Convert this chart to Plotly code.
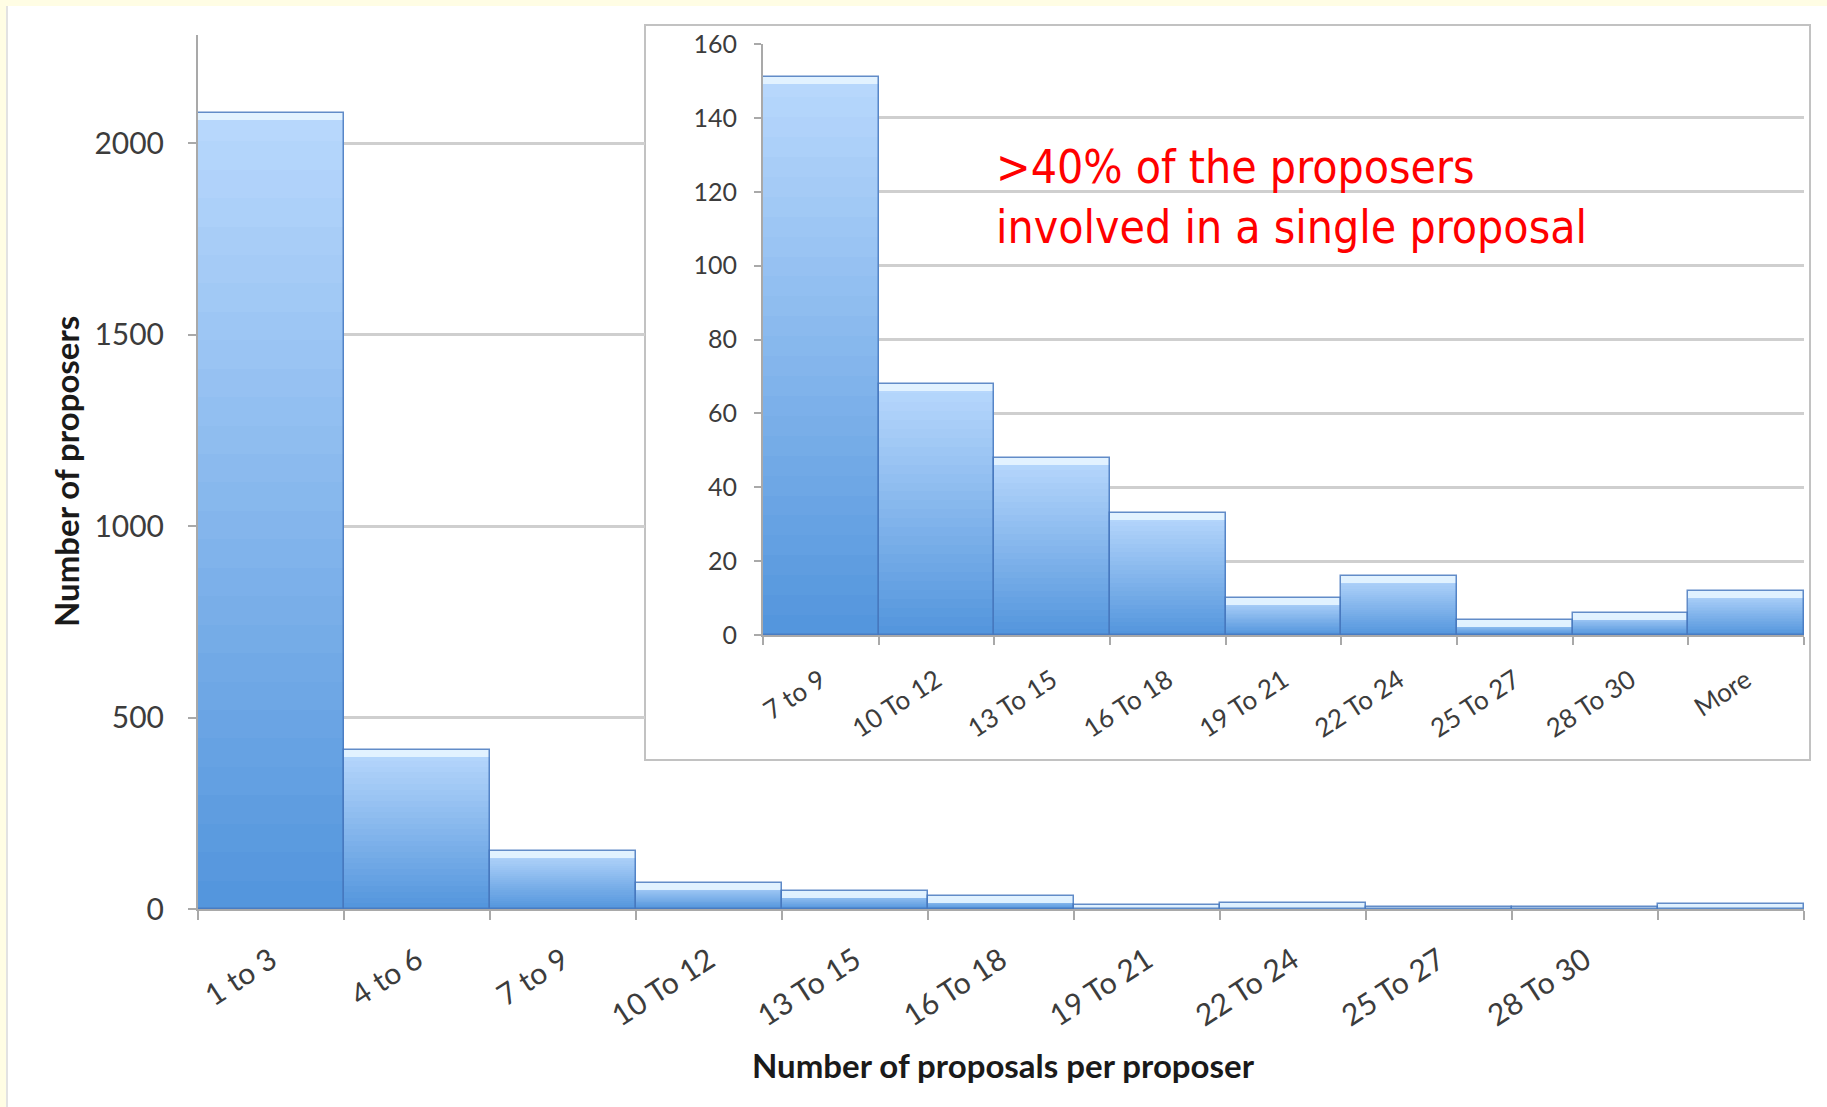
import plotly.graph_objects as go

# Number of proposers, binned by how many proposals each one is involved in
bins_main = ["1 to 3", "4 to 6", "7 to 9", "10 To 12", "13 To 15", "16 To 18",
             "19 To 21", "22 To 24", "25 To 27", "28 To 30", "More"]
labels_main = ["1 to 3", "4 to 6", "7 to 9", "10 To 12", "13 To 15", "16 To 18",
               "19 To 21", "22 To 24", "25 To 27", "28 To 30", ""]
counts_main = [2079, 416, 151, 68, 48, 33, 10, 16, 4, 6, 12]

# Close-up of the tail (7 proposals and more)
bins_zoom = ["7 to 9", "10 To 12", "13 To 15", "16 To 18", "19 To 21",
             "22 To 24", "25 To 27", "28 To 30", "More"]
counts_zoom = [151, 68, 48, 33, 10, 16, 4, 6, 12]

main_ticks = [0, 500, 1000, 1500, 2000]
zoom_ticks = [0, 20, 40, 60, 80, 100, 120, 140, 160]

W, H = 1827, 1107
TOP_RGB = (183, 215, 252)
BOTTOM_RGB = (84, 150, 221)


def px_x(p):
    return p / W


def px_y(p):
    return (H - p) / H


def gradient_bars(cats, vals, xa, ya, bevel):
    """Bars shaded light at the top to darker at the base, with a highlight rim."""
    traces = []
    steps = 28
    for k in range(steps):
        frac = 1 - k / steps
        t = k / (steps - 1)
        c = tuple(round(TOP_RGB[i] + (BOTTOM_RGB[i] - TOP_RGB[i]) * t) for i in range(3))
        traces.append(go.Bar(
            x=cats, y=[v * frac for v in vals], xaxis=xa, yaxis=ya,
            marker=dict(color="rgb(%d,%d,%d)" % c, line=dict(width=0)),
            hoverinfo="skip", showlegend=False))
    rim = [min(bevel, v) for v in vals]
    traces.append(go.Bar(
        x=cats, y=rim, base=[v - r for v, r in zip(vals, rim)], xaxis=xa, yaxis=ya,
        marker=dict(color="rgba(228,243,255,0.95)", line=dict(width=0)),
        hoverinfo="skip", showlegend=False))
    traces.append(go.Bar(
        x=cats, y=vals, xaxis=xa, yaxis=ya,
        marker=dict(color="rgba(0,0,0,0)", line=dict(color="rgba(70,120,190,0.85)", width=1.5)),
        hoverinfo="skip", showlegend=False))
    return traces


fig = go.Figure()

# helper subplot that only carries the main chart's horizontal gridlines
fig.add_trace(go.Scatter(x=[], y=[], xaxis="x", yaxis="y", hoverinfo="skip", showlegend=False))

for tr in gradient_bars(bins_main, counts_main, "x2", "y2", 18):
    fig.add_trace(tr)
for tr in gradient_bars(bins_zoom, counts_zoom, "x3", "y3", 1.9):
    fig.add_trace(tr)

AXIS_GREY = "#a9a9a9"
GRID_GREY = "#cfcfcf"
TICK_FONT = "Lato, 'Open Sans', sans-serif"

main_xdom = [px_x(198), px_x(1804)]
main_ydom = [px_y(909), px_y(35)]
main_range = [0, 2282]

fig.update_layout(
    width=W, height=H, autosize=False,
    margin=dict(l=0, r=0, t=0, b=0, pad=0, autoexpand=False),
    paper_bgcolor="white",
    plot_bgcolor="rgba(0,0,0,0)",
    barmode="overlay", bargap=0,
    showlegend=False,
    xaxis=dict(domain=[px_x(198), px_x(645)], anchor="y", visible=False, range=[0, 1],
               automargin=False),
    yaxis=dict(domain=main_ydom, anchor="x", range=main_range,
               tickmode="array", tickvals=main_ticks[1:],
               showgrid=True, gridcolor=GRID_GREY, gridwidth=3, automargin=False,
               showticklabels=False, ticks="", showline=False, zeroline=False),
    xaxis2=dict(domain=main_xdom, anchor="y2", type="category",
                categoryorder="array", categoryarray=bins_main,
                range=[-0.5, len(bins_main) - 0.5],
                tickmode="array", tickvals=bins_main, ticktext=labels_main,
                tickson="boundaries", tickangle=-33, automargin=False,
                ticks="outside", ticklen=9, tickwidth=2, tickcolor=AXIS_GREY,
                showline=True, linecolor=AXIS_GREY, linewidth=2,
                showgrid=False, zeroline=False, ticklabelstandoff=20,
                tickfont=dict(family=TICK_FONT, size=30, color="#3c3c3c")),
    yaxis2=dict(domain=main_ydom, anchor="x2", range=main_range,
                tickmode="array", tickvals=main_ticks, automargin=False,
                ticks="outside", ticklen=8, tickwidth=2, tickcolor=AXIS_GREY,
                showline=True, linecolor=AXIS_GREY, linewidth=2,
                showgrid=False, zeroline=False, ticklabelstandoff=18,
                tickfont=dict(family=TICK_FONT, size=30, color="#3c3c3c")),
    xaxis3=dict(domain=[px_x(763), px_x(1804)], anchor="y3", type="category",
                categoryorder="array", categoryarray=bins_zoom,
                range=[-0.5, len(bins_zoom) - 0.5],
                tickson="boundaries", tickangle=-33, automargin=False,
                ticks="outside", ticklen=8, tickwidth=2, tickcolor=AXIS_GREY,
                showline=True, linecolor=AXIS_GREY, linewidth=2,
                showgrid=False, zeroline=False, ticklabelstandoff=18,
                tickfont=dict(family=TICK_FONT, size=26, color="#3c3c3c")),
    yaxis3=dict(domain=[px_y(635), px_y(44)], anchor="x3", range=[0, 160],
                tickmode="array", tickvals=zoom_ticks, automargin=False,
                ticks="outside", ticklen=7, tickwidth=2, tickcolor=AXIS_GREY,
                showline=True, linecolor=AXIS_GREY, linewidth=2,
                showgrid=True, gridcolor=GRID_GREY, gridwidth=3,
                zeroline=False, ticklabelstandoff=12,
                tickfont=dict(family=TICK_FONT, size=25, color="#3c3c3c")),
)

fig.update_layout(shapes=[
    # pale slide background peeking at the top and left edges
    dict(type="rect", xref="paper", yref="paper", x0=0, x1=1, y0=px_y(6), y1=1,
         fillcolor="#fffde4", line=dict(width=0), layer="below"),
    dict(type="rect", xref="paper", yref="paper", x0=0, x1=px_x(6), y0=0, y1=1,
         fillcolor="#fffde4", line=dict(width=0), layer="below"),
    dict(type="line", xref="paper", yref="paper", x0=px_x(7), x1=px_x(7), y0=0, y1=px_y(6),
         line=dict(color="#e2e2e2", width=2), layer="below"),
    # frame around the close-up panel
    dict(type="rect", xref="paper", yref="paper",
         x0=px_x(645), x1=px_x(1810), y0=px_y(760), y1=px_y(25),
         fillcolor="white", line=dict(color="#c2c2c2", width=2), layer="below"),
])

fig.update_layout(annotations=[
    dict(text="Number of proposers", textangle=-90, showarrow=False,
         xref="paper", yref="paper", x=px_x(66), y=px_y(472),
         xanchor="center", yanchor="middle",
         font=dict(family=TICK_FONT, size=33, color="#1a1a1a", weight="bold")),
    dict(text="Number of proposals per proposer", showarrow=False,
         xref="paper", yref="paper", x=px_x(1003), y=px_y(1065),
         xanchor="center", yanchor="middle",
         font=dict(family=TICK_FONT, size=33, color="#1a1a1a", weight="bold")),
    dict(text=">40% of the proposers<br>involved in a single proposal", showarrow=False,
         xref="paper", yref="paper", x=px_x(994), y=px_y(197),
         xanchor="left", yanchor="middle", align="left",
         font=dict(family="'DejaVu Sans Condensed', 'DejaVu Sans', sans-serif",
                   size=46, color="#ff0000")),
])

fig.write_html("out.html", config={"responsive": False, "displayModeBar": False})
